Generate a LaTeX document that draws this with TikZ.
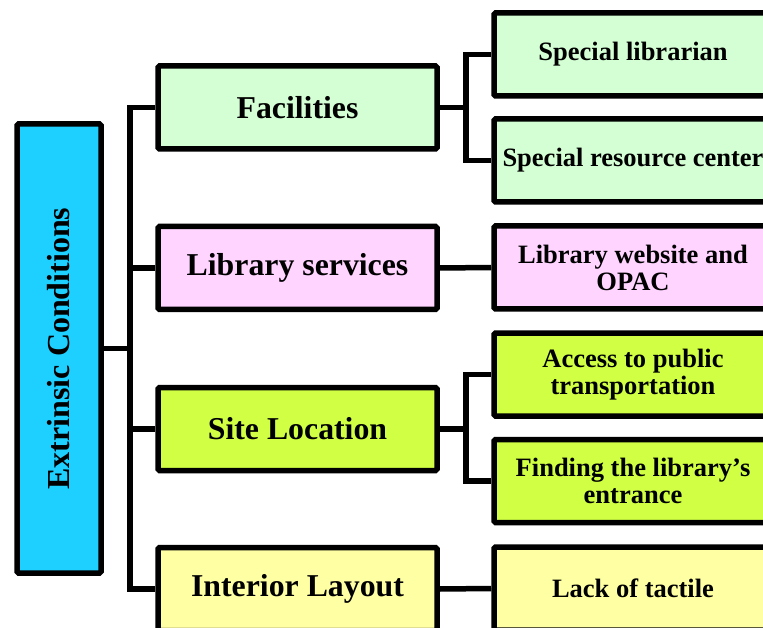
\documentclass[tikz,border=0pt]{standalone}
\usepackage{fontspec}
\setmainfont{Liberation Serif}
\definecolor{cyanbox}{RGB}{30,208,255}
\definecolor{greenbox}{RGB}{212,255,212}
\definecolor{pinkbox}{RGB}{255,212,255}
\definecolor{limebox}{RGB}{208,255,68}
\definecolor{yellowbox}{RGB}{255,255,164}
\tikzset{
  boxbase/.style={draw=black, line width=5.5pt, rounded corners=1.5pt, inner sep=0pt, align=center, font=\bfseries},
  rootbox/.style={boxbase, fill=cyanbox, minimum width=84pt, minimum height=449pt},
  levelone/.style={boxbase, minimum width=279pt, minimum height=83pt, font=\bfseries\fontsize{31.8}{34}\selectfont},
  leveltwo/.style={boxbase, minimum width=278pt, minimum height=83pt, font=\bfseries\fontsize{26.5}{27}\selectfont},
  conn/.style={draw=black, line width=5.5pt},
}
\begin{document}
\begin{tikzpicture}[x=1pt,y=-1pt]
\useasboundingbox (0,0) rectangle (763,628);
\clip (0,0) rectangle (763,628);
\node[rootbox] (root) at (59,348.5) {\rotatebox{90}{\bfseries\fontsize{32}{34}\selectfont Extrinsic Conditions}};
\node[levelone, fill=greenbox] (fac) at (297.5,107.5) {Facilities};
\node[levelone, fill=pinkbox] (lib) at (297.5,268) {Library services};
\node[levelone, fill=limebox] (site) at (297.5,429) {Site Location};
\node[levelone, fill=yellowbox] (inter) at (297.5,589) {Interior Layout};
\node[leveltwo, fill=greenbox] (spl) at (633,54.5) {Special librarian};
\node[leveltwo, fill=greenbox] (src) at (633,160.5) {Special resource center};
\node[leveltwo, fill=pinkbox] (web) at (633,267.5) {Library website and\\OPAC};
\node[leveltwo, fill=limebox] (acc) at (633,374.5) {Access to public\\transportation};
\node[leveltwo, fill=limebox] (find) at (633,481) {Finding the library’s\\entrance};
\node[leveltwo, fill=yellowbox] (lack) at (633,588.5) {Lack of tactile};
\coordinate (busroot) at (130,348.5);
\coordinate (busfac) at (466,107.5);
\coordinate (bussite) at (466,429);
\draw[conn] (root.east) -- (busroot);
\draw[conn] (busroot) |- (fac.west);
\draw[conn] (busroot) |- (inter.west);
\draw[conn] (busroot) |- (lib.west);
\draw[conn] (busroot) |- (site.west);
\draw[conn] (fac.east) -- (busfac);
\draw[conn] (busfac) |- (spl.west);
\draw[conn] (busfac) |- (src.west);
\draw[conn] (lib.east) -- (web.west);
\draw[conn] (site.east) -- (bussite);
\draw[conn] (bussite) |- (acc.west);
\draw[conn] (bussite) |- (find.west);
\draw[conn] (inter.east) -- (lack.west);
\end{tikzpicture}
\end{document}
